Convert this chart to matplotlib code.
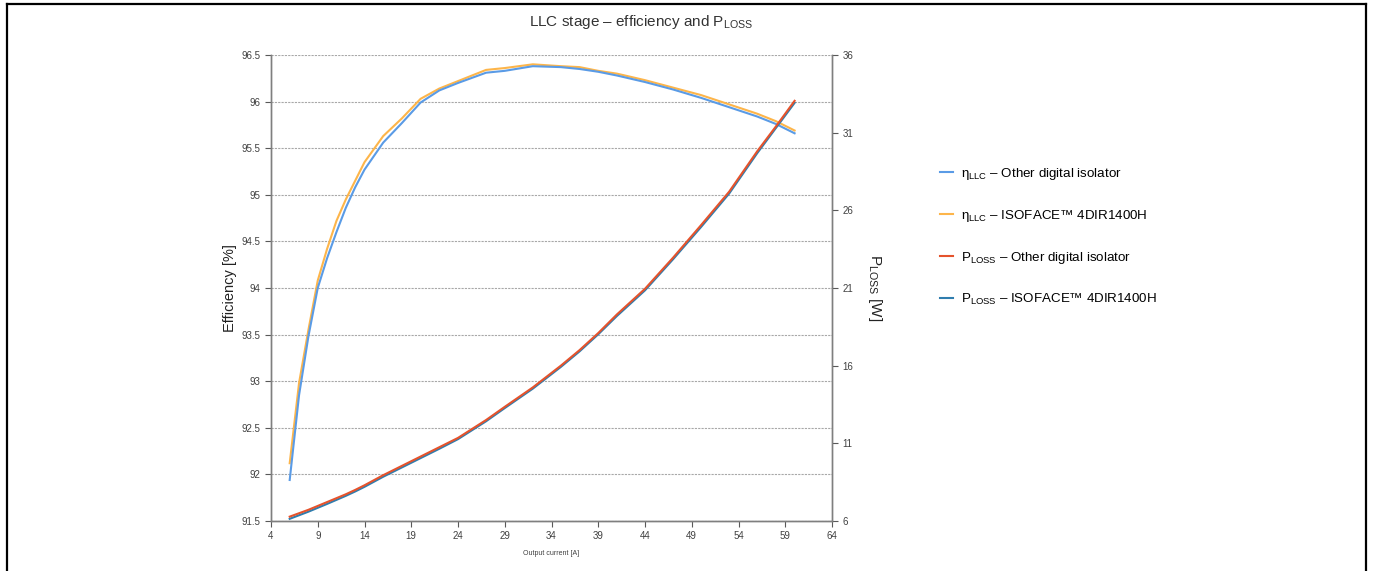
import matplotlib
matplotlib.use("Agg")
import matplotlib.pyplot as plt
from matplotlib.lines import Line2D

plt.rcParams['font.family'] = ['Liberation Sans', 'DejaVu Sans']
plt.rcParams['mathtext.fontset'] = 'custom'
plt.rcParams['mathtext.rm'] = 'Liberation Sans'
plt.rcParams['mathtext.it'] = 'Liberation Sans:italic'
plt.rcParams['mathtext.bf'] = 'Liberation Sans:bold'

# ---- data ----
current = [6, 7, 8, 9, 10, 11, 12, 13, 14, 16, 18, 20, 22, 24, 27, 29, 32, 35, 37,
           39, 41, 44, 47, 50, 53, 56, 58, 60]
eff_other = [91.94, 92.85, 93.48, 94.0, 94.32, 94.6, 94.86, 95.08, 95.27, 95.56, 95.77,
             95.99, 96.12, 96.2, 96.31, 96.33, 96.38, 96.37, 96.35, 96.32, 96.28, 96.21,
             96.13, 96.04, 95.94, 95.84, 95.76, 95.66]
eff_isoface = [92.12, 92.98, 93.55, 94.08, 94.42, 94.72, 94.95, 95.15, 95.35, 95.63, 95.82,
               96.03, 96.14, 96.22, 96.34, 96.36, 96.40, 96.38, 96.37, 96.33, 96.30, 96.23,
               96.15, 96.07, 95.97, 95.87, 95.79, 95.69]
ploss_other = [6.28, 6.5, 6.72, 6.97, 7.22, 7.47, 7.72, 8.0, 8.3, 8.95, 9.55, 10.15, 10.75,
               11.35, 12.5, 13.35, 14.6, 16.0, 17.0, 18.1, 19.3, 20.95, 22.95, 25.05, 27.2,
               29.8, 31.4, 33.05]
ploss_isoface = [6.14, 6.37, 6.6, 6.85, 7.1, 7.36, 7.62, 7.9, 8.2, 8.85, 9.45, 10.05, 10.65,
                 11.27, 12.42, 13.27, 14.52, 15.92, 16.92, 18.02, 19.2, 20.85, 22.85, 24.93,
                 27.08, 29.68, 31.3, 32.92]

x_ticks = [4, 9, 14, 19, 24, 29, 34, 39, 44, 49, 54, 59, 64]
eff_ticks = [91.5, 92, 92.5, 93, 93.5, 94, 94.5, 95, 95.5, 96, 96.5]
eff_tick_labels = ['91.5', '92', '92.5', '93', '93.5', '94', '94.5', '95', '95.5', '96', '96.5']
p_ticks = [6, 11, 16, 21, 26, 31, 36]

labels = [r'η$_{\mathrm{LLC}}$ – Other digital isolator',
          r'η$_{\mathrm{LLC}}$ – ISOFACE™ 4DIR1400H',
          r'P$_{\mathrm{LOSS}}$ – Other digital isolator',
          r'P$_{\mathrm{LOSS}}$ – ISOFACE™ 4DIR1400H']
colors = ['#5A9BE6', '#FDB54A', '#E5532C', '#2F7DAE']

W, H = 1373, 571
fig = plt.figure(figsize=(W / 100, H / 100), dpi=100)
ax = fig.add_axes([271 / W, 1 - 521 / H, (832 - 271) / W, (521 - 55) / H])
ax2 = ax.twinx()

spine_col = '#7f7f7f'
tick_col = '#595959'

l1, = ax.plot(current, eff_other, color=colors[0], lw=1.5, zorder=3)
l2, = ax.plot(current, eff_isoface, color=colors[1], lw=1.5, zorder=2)
l3, = ax2.plot(current, ploss_other, color=colors[2], lw=1.5, zorder=3)
l4, = ax2.plot(current, ploss_isoface, color=colors[3], lw=1.5, zorder=2)

ax.set_xlim(4, 64)
ax.set_ylim(91.5, 96.5)
ax2.set_ylim(6, 36)
ax.set_xticks(x_ticks)
ax.set_yticks(eff_ticks)
ax.set_yticklabels(eff_tick_labels)
ax2.set_yticks(p_ticks)

ax.grid(axis='y', color='#a8a8a8', linestyle=(0, (2, 1)), linewidth=0.8)
ax.set_axisbelow(True)

for a in (ax, ax2):
    a.spines['top'].set_visible(False)
    for s in ('left', 'right', 'bottom'):
        a.spines[s].set_color(spine_col)
        a.spines[s].set_linewidth(1.0)
    a.tick_params(colors=tick_col, labelsize=7, length=4, width=0.8)
ax.tick_params(axis='both', labelcolor='#404040')
ax2.tick_params(axis='y', labelcolor='#404040')

ax.set_xlabel('Output current [A]', fontsize=5, color='#404040', labelpad=6)
ax.set_ylabel('Efficiency [%]', fontsize=10.5, color='#222222', labelpad=3)
ax2.set_ylabel(r'P$_{\mathrm{LOSS}}$ [W]', fontsize=11, color='#222222', rotation=-90,
               labelpad=22)

fig.text(641 / W, 1 - 22 / H, r'LLC stage – efficiency and P$_{\mathrm{LOSS}}$',
         ha='center', va='center', fontsize=11, color='#333333')

fig.legend([l1, l2, l3, l4], labels, loc='upper left',
           bbox_to_anchor=(928 / W, 1 - 154 / H), frameon=False, fontsize=9.6,
           handlelength=1.0, handletextpad=0.6, labelspacing=1.95)

# frame border
bc = 'black'
fig.add_artist(Line2D([7 / W, 7 / W], [0, 1 - 4 / H], color=bc, lw=1.6,
                      transform=fig.transFigure))
fig.add_artist(Line2D([7 / W, 1366 / W], [1 - 4 / H, 1 - 4 / H], color=bc, lw=1.6,
                      transform=fig.transFigure))
fig.add_artist(Line2D([1366 / W, 1366 / W], [0, 1 - 4 / H], color=bc, lw=1.6,
                      transform=fig.transFigure))

fig.savefig('out.png', dpi=100, facecolor='white')
